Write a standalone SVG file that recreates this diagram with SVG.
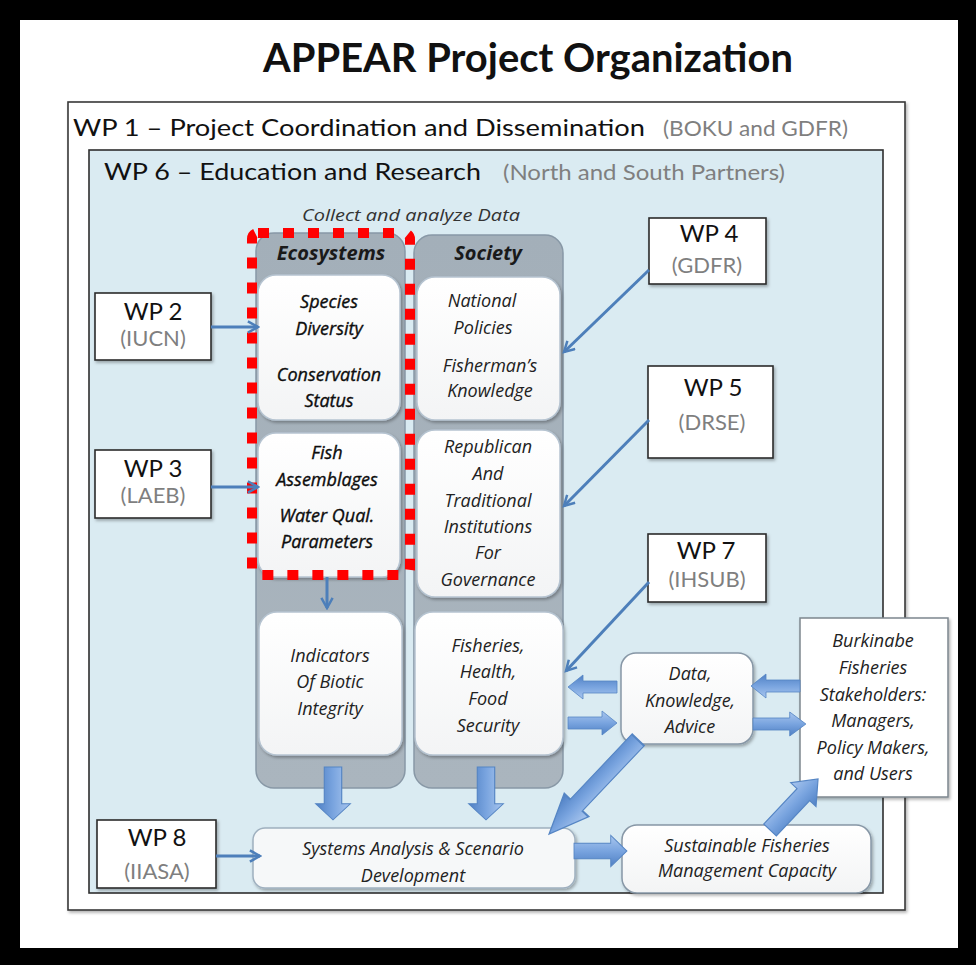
<svg xmlns="http://www.w3.org/2000/svg" width="976" height="965" viewBox="0 0 976 965">
<defs>
<style>
.h{font-family:Lato,"Liberation Sans",sans-serif;fill:#111}
.g{font-family:Lato,"Liberation Sans",sans-serif;fill:#7f7f7f}
.it{font-family:"Open Sans","Liberation Sans",sans-serif;font-style:italic;font-size:18px;fill:#222;text-anchor:middle}
.dk{fill:#0d0d0d;stroke:#0d0d0d;stroke-width:0.35}
.hd{font-family:"Open Sans","Liberation Sans",sans-serif;font-style:italic;font-weight:bold;font-size:20px;fill:#1a1a1a;text-anchor:middle}
.wp{fill:#fff;stroke:#2b2b2b;stroke-width:1.6}
.col{fill:url(#colG);stroke:#8898a6;stroke-width:1.5}
.ib{fill:url(#boxG);stroke:#b6c4d1;stroke-width:1.5}
.thin{fill:none;stroke:#4d7fba;stroke-width:3;marker-end:url(#ah)}
.blk{fill:url(#arG);stroke:#5585c4;stroke-width:0.8}
.wpt{font-family:Lato,"Liberation Sans",sans-serif;font-size:24px;fill:#111;text-anchor:middle}
.wps{font-family:Lato,"Liberation Sans",sans-serif;font-size:22px;fill:#7f7f7f;text-anchor:middle}
</style>
<linearGradient id="colG" x1="0" y1="0" x2="0" y2="1">
<stop offset="0" stop-color="#a3afb9"/><stop offset="1" stop-color="#aab5be"/>
</linearGradient>
<linearGradient id="boxG" x1="0" y1="0" x2="0" y2="1">
<stop offset="0" stop-color="#ffffff"/><stop offset="1" stop-color="#f3f4f5"/>
</linearGradient>
<linearGradient id="arG" x1="0" y1="0" x2="0" y2="1">
<stop offset="0" stop-color="#a9c6ee"/><stop offset="0.5" stop-color="#79a4df"/><stop offset="1" stop-color="#4f80c4"/>
</linearGradient>
<filter id="sh" x="-10%" y="-10%" width="130%" height="130%">
<feDropShadow dx="1.5" dy="2" stdDeviation="1.5" flood-color="#000" flood-opacity="0.3"/>
</filter>
<marker id="ah" viewBox="0 0 12 12" refX="10" refY="6" markerWidth="4.5" markerHeight="4.5" orient="auto" markerUnits="strokeWidth">
<path d="M1,1 L10,6 L1,11" fill="none" stroke="#4d7fba" stroke-width="2.2"/>
</marker>
<path id="arr" d="M0,-6 L34,-6 L34,-12 L49,0 L34,12 L34,6 L0,6 Z"/>
</defs>

<rect x="0" y="0" width="976" height="965" fill="#000"/>
<rect x="20" y="20" width="938" height="928" fill="#fff"/>

<g id="title">
<text class="h" x="263" y="72" font-size="40" font-weight="bold" textLength="530" lengthAdjust="spacingAndGlyphs">APPEAR Project Organization</text>
</g>

<g id="wp1">
<rect x="68" y="102" width="837" height="808" fill="#fff" stroke="#3a3a3a" stroke-width="1.6" filter="url(#sh)"/>
<text class="h" x="73" y="136" font-size="24" textLength="572" lengthAdjust="spacingAndGlyphs">WP 1 – Project Coordination and Dissemination</text>
<text class="g" x="663" y="136" font-size="22" textLength="185" lengthAdjust="spacingAndGlyphs">(BOKU and GDFR)</text>
</g>

<g id="wp6">
<rect x="89" y="150" width="794" height="743" fill="#daebf2" stroke="#2e2e2e" stroke-width="1.6"/>
<text class="h" x="104" y="180" font-size="23" textLength="377" lengthAdjust="spacingAndGlyphs">WP 6 – Education and Research</text>
<text class="g" x="503" y="180" font-size="21" textLength="282" lengthAdjust="spacingAndGlyphs">(North and South Partners)</text>
<text x="302" y="221" font-family="'Open Sans','Liberation Sans',sans-serif" font-style="italic" font-size="16" fill="#333" textLength="218" lengthAdjust="spacingAndGlyphs">Collect and analyze Data</text>
</g>

<g id="ecosystems">
<rect class="col" x="256" y="233" width="149" height="555" rx="18"/>
<text class="hd" x="331" y="260">Ecosystems</text>
</g>
<g id="society">
<rect class="col" x="414" y="235" width="149" height="553" rx="18"/>
<text class="hd" x="488" y="260">Society</text>
</g>

<g id="species">
<rect class="ib" x="258" y="275" width="142" height="145" rx="18" filter="url(#sh)"/>
<text class="it dk" x="329" y="308">Species</text>
<text class="it dk" x="329" y="335">Diversity</text>
<text class="it dk" x="329" y="381">Conservation</text>
<text class="it dk" x="329" y="407">Status</text>
</g>
<g id="fish">
<rect class="ib" x="258" y="433" width="142" height="144" rx="18" filter="url(#sh)"/>
<text class="it dk" x="327" y="459">Fish</text>
<text class="it dk" x="327" y="486">Assemblages</text>
<text class="it dk" x="327" y="522">Water Qual.</text>
<text class="it dk" x="327" y="548">Parameters</text>
</g>
<g id="national">
<rect class="ib" x="417" y="277" width="143" height="143" rx="18" filter="url(#sh)"/>
<text class="it" x="482" y="307">National</text>
<text class="it" x="483" y="334">Policies</text>
<text class="it" x="490" y="372">Fisherman’s</text>
<text class="it" x="490" y="397">Knowledge</text>
</g>
<g id="republican">
<rect class="ib" x="417" y="430" width="143" height="167" rx="18" filter="url(#sh)"/>
<text class="it" x="488" y="453">Republican</text>
<text class="it" x="488" y="480">And</text>
<text class="it" x="488" y="507">Traditional</text>
<text class="it" x="488" y="533">Institutions</text>
<text class="it" x="488" y="559">For</text>
<text class="it" x="488" y="586">Governance</text>
</g>
<g id="indicators">
<rect class="ib" x="259" y="612" width="143" height="143" rx="18" filter="url(#sh)"/>
<text class="it" x="330" y="662">Indicators</text>
<text class="it" x="330" y="688">Of Biotic</text>
<text class="it" x="330" y="715">Integrity</text>
</g>
<g id="fisheries">
<rect class="ib" x="415" y="612" width="148" height="143" rx="18" filter="url(#sh)"/>
<text class="it" x="488" y="652">Fisheries,</text>
<text class="it" x="488" y="678">Health,</text>
<text class="it" x="488" y="705">Food</text>
<text class="it" x="488" y="732">Security</text>
</g>

<g id="focus">
<rect x="252" y="233" width="158" height="342" rx="6" fill="none" stroke="#ff0000" stroke-width="10" stroke-dasharray="11 14"/>
</g>

<g id="wp2">
<rect class="wp" x="95" y="293" width="116" height="67" filter="url(#sh)"/>
<text class="wpt" x="153" y="320">WP 2</text>
<text class="wps" x="153" y="346">(IUCN)</text>
</g>
<g id="wp3">
<rect class="wp" x="95" y="450" width="116" height="68" filter="url(#sh)"/>
<text class="wpt" x="153" y="477">WP 3</text>
<text class="wps" x="153" y="503">(LAEB)</text>
</g>
<g id="wp4">
<rect class="wp" x="649" y="218" width="117" height="66" filter="url(#sh)"/>
<text class="wpt" x="709" y="242">WP 4</text>
<text class="wps" x="707" y="273">(GDFR)</text>
</g>
<g id="wp5">
<rect class="wp" x="648" y="366" width="125" height="92" filter="url(#sh)"/>
<text class="wpt" x="713" y="396">WP 5</text>
<text class="wps" x="712" y="430">(DRSE)</text>
</g>
<g id="wp7">
<rect class="wp" x="648" y="534" width="118" height="68" filter="url(#sh)"/>
<text class="wpt" x="706" y="559">WP 7</text>
<text class="wps" x="707" y="587">(IHSUB)</text>
</g>
<g id="wp8">
<rect class="wp" x="97" y="820" width="119" height="68" filter="url(#sh)"/>
<text class="wpt" x="157" y="846">WP 8</text>
<text class="wps" x="157" y="879">(IIASA)</text>
</g>

<g id="systems">
<rect x="253" y="828" width="322" height="60" rx="12" fill="#f6f8f9" stroke="#9fb0bf" stroke-width="1.5" filter="url(#sh)"/>
<text class="it" x="413" y="855">Systems Analysis &amp; Scenario</text>
<text class="it" x="413" y="882">Development</text>
</g>
<g id="data">
<rect x="621" y="653" width="132" height="91" rx="15" fill="url(#boxG)" stroke="#8797a6" stroke-width="1.5" filter="url(#sh)"/>
<text class="it" x="690" y="680">Data,</text>
<text class="it" x="690" y="707">Knowledge,</text>
<text class="it" x="690" y="733">Advice</text>
</g>
<g id="stakeholders">
<rect x="800" y="618" width="148" height="179" fill="#fff" stroke="#7d868e" stroke-width="1.5" filter="url(#sh)"/>
<text class="it" x="873" y="647">Burkinabe</text>
<text class="it" x="873" y="674">Fisheries</text>
<text class="it" x="873" y="701">Stakeholders:</text>
<text class="it" x="873" y="727">Managers,</text>
<text class="it" x="873" y="754">Policy Makers,</text>
<text class="it" x="873" y="780">and Users</text>
</g>
<g id="sustainable">
<rect x="622" y="825" width="249" height="68" rx="15" fill="url(#boxG)" stroke="#8797a6" stroke-width="1.5" filter="url(#sh)"/>
<text class="it" x="747" y="852">Sustainable Fisheries</text>
<text class="it" x="747" y="877">Management Capacity</text>
</g>

<g id="connectors">
<line class="thin" x1="211" y1="327" x2="258" y2="327"/>
<line class="thin" x1="211" y1="487" x2="258" y2="487"/>
<line class="thin" x1="216" y1="856" x2="260" y2="856"/>
<line class="thin" x1="327" y1="577" x2="327" y2="608"/>
<line class="thin" x1="649" y1="270" x2="564" y2="352"/>
<line class="thin" x1="649" y1="420" x2="564" y2="506"/>
<line class="thin" x1="649" y1="582" x2="566" y2="671"/>

<g transform="translate(333,767) rotate(90) scale(1.08,1.45)"><use href="#arr" class="blk"/></g>
<g transform="translate(486,767) rotate(90) scale(1.08,1.45)"><use href="#arr" class="blk"/></g>
<g transform="translate(617,687) rotate(180)"><use href="#arr" class="blk"/></g>
<g transform="translate(568,723)"><use href="#arr" class="blk"/></g>
<g transform="translate(800,686) rotate(180)"><use href="#arr" class="blk"/></g>
<g transform="translate(753,724) scale(1.08,1)"><use href="#arr" class="blk"/></g>
<g transform="translate(574,851) scale(1.08,1.3)"><use href="#arr" class="blk"/></g>
<g transform="translate(638,740) rotate(133.4) scale(2.64,1.4)"><use href="#arr" class="blk"/></g>
<g transform="translate(770,830) rotate(-46.7) scale(1.43,1.45)"><use href="#arr" class="blk"/></g>
</g>
</svg>
